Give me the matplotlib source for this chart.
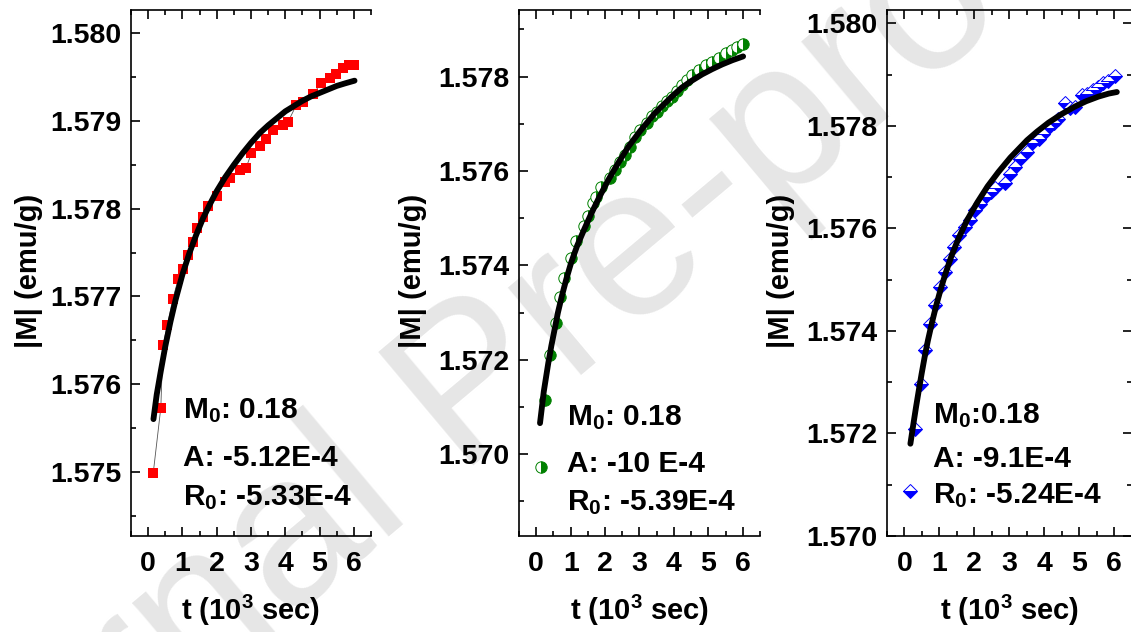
import matplotlib
matplotlib.use("Agg")
import matplotlib.pyplot as plt
from matplotlib.ticker import MultipleLocator, FormatStrFormatter

plt.rcParams['font.family'] = ['Liberation Sans', 'DejaVu Sans']
plt.rcParams['font.weight'] = 'bold'
plt.rcParams['mathtext.fontset'] = 'custom'
plt.rcParams['mathtext.rm'] = 'Liberation Sans:bold'
plt.rcParams['mathtext.bf'] = 'Liberation Sans:bold'
plt.rcParams['mathtext.it'] = 'Liberation Sans:bold'
plt.rcParams['mathtext.default'] = 'rm'

# ---------------- data ----------------
# panel 1 (red squares)
t1 = [0.15, 0.37, 0.43, 0.56, 0.72, 0.88, 1.03, 1.15, 1.30, 1.43, 1.59, 1.75,
      2.00, 2.24, 2.40, 2.67, 2.85, 3.01, 3.26, 3.45, 3.64, 3.93, 4.08, 4.32,
      4.52, 4.81, 5.05, 5.29, 5.49, 5.68, 5.87, 6.00]
m1 = [1.57499, 1.57573, 1.57644, 1.57667, 1.57697, 1.57720, 1.57731, 1.57747,
      1.57762, 1.57778, 1.57791, 1.57803, 1.57815, 1.57830, 1.57835, 1.57844,
      1.57846, 1.57863, 1.57871, 1.57880, 1.57890, 1.57895, 1.57899, 1.57918,
      1.57922, 1.57931, 1.57943, 1.57949, 1.57954, 1.57960, 1.57964, 1.57964]
fit_t1 = [0.155, 0.25, 0.37, 0.50, 0.65, 0.80, 1.00, 1.20, 1.40, 1.60, 1.80,
          2.00, 2.25, 2.50, 2.75, 3.00, 3.25, 3.50, 3.75, 4.00, 4.25, 4.50,
          4.75, 5.00, 5.25, 5.50, 5.75, 6.02]
fit_m1 = [1.57560, 1.57588, 1.57615, 1.57643, 1.57671, 1.57696, 1.57725,
          1.57749, 1.57770, 1.57789, 1.57805, 1.57820, 1.57836, 1.57850,
          1.57863, 1.57875, 1.57886, 1.57895, 1.57903, 1.57911, 1.57917,
          1.57923, 1.57928, 1.57932, 1.57936, 1.57940, 1.57943, 1.57946]

# panel 2 (green half-filled circles)
t2 = [0.14, 0.25, 0.41, 0.58, 0.70, 0.82, 1.01, 1.16, 1.40, 1.50, 1.65, 1.75,
      1.89, 2.14, 2.28, 2.43, 2.58, 2.72, 2.87, 3.01, 3.21, 3.36, 3.50, 3.65,
      3.80, 3.94, 4.09, 4.23, 4.38, 4.53, 4.72, 4.92, 5.11, 5.31, 5.50, 5.70,
      5.84, 6.01]
m2 = [1.56974, 1.57115, 1.57210, 1.57278, 1.57334, 1.57373, 1.57415, 1.57451,
      1.57483, 1.57504, 1.57532, 1.57546, 1.57567, 1.57585, 1.57603, 1.57620,
      1.57635, 1.57652, 1.57673, 1.57688, 1.57702, 1.57716, 1.57726, 1.57737,
      1.57748, 1.57758, 1.57769, 1.57783, 1.57794, 1.57804, 1.57815, 1.57825,
      1.57832, 1.57840, 1.57850, 1.57857, 1.57863, 1.57869]
fit_t2 = [0.11, 0.22, 0.35, 0.44, 0.53, 0.63, 0.74, 0.87, 1.01, 1.19, 1.39,
          1.60, 1.84, 2.10, 2.38, 2.68, 3.01, 3.45, 3.94, 4.23, 4.53, 4.82,
          5.11, 5.40, 5.70, 6.01]
fit_m2 = [1.57066, 1.57133, 1.57193, 1.57230, 1.57263, 1.57300, 1.57334,
          1.57370, 1.57405, 1.57442, 1.57476, 1.57510, 1.57546, 1.57582,
          1.57617, 1.57652, 1.57684, 1.57723, 1.57758, 1.57777, 1.57792,
          1.57805, 1.57816, 1.57826, 1.57835, 1.57843]

# panel 3 (blue half-filled diamonds)
t3 = [0.15, 0.31, 0.46, 0.58, 0.72, 0.87, 1.01, 1.15, 1.29, 1.43, 1.57, 1.72,
      1.89, 2.03, 2.17, 2.31, 2.49, 2.60, 2.89, 3.03, 3.17, 3.31, 3.51, 3.65,
      3.84, 3.98, 4.12, 4.27, 4.41, 4.60, 4.74, 4.89, 5.08, 5.22, 5.41, 5.55,
      5.69, 5.84, 6.03]
m3 = [1.57088, 1.57209, 1.57297, 1.57362, 1.57413, 1.57450, 1.57486, 1.57515,
      1.57541, 1.57564, 1.57587, 1.57603, 1.57616, 1.57635, 1.57648, 1.57661,
      1.57671, 1.57678, 1.57688, 1.57707, 1.57720, 1.57736, 1.57749, 1.57766,
      1.57775, 1.57785, 1.57795, 1.57805, 1.57814, 1.57844, 1.57834, 1.57837,
      1.57860, 1.57863, 1.57870, 1.57876, 1.57883, 1.57888, 1.57897]
fit_t3 = [0.17, 0.25, 0.33, 0.41, 0.49, 0.58, 0.67, 0.79, 0.91, 1.04, 1.17,
          1.35, 1.55, 1.80, 2.08, 2.38, 2.69, 3.03, 3.51, 3.80, 4.12, 4.50,
          4.89, 5.20, 5.55, 5.85, 6.08]
fit_m3 = [1.57180, 1.57216, 1.57251, 1.57284, 1.57316, 1.57350, 1.57381,
          1.57417, 1.57450, 1.57482, 1.57511, 1.57547, 1.57581, 1.57617,
          1.57650, 1.57682, 1.57710, 1.57738, 1.57772, 1.57789, 1.57806,
          1.57823, 1.57838, 1.57848, 1.57857, 1.57863, 1.57866]

x_ticks = [0, 1, 2, 3, 4, 5, 6]
params = [
    [r"M$_{0}$: 0.18", "A: -5.12E-4", r"R$_{0}$: -5.33E-4"],
    [r"M$_{0}$: 0.18", "A: -10 E-4", r"R$_{0}$: -5.39E-4"],
    [r"M$_{0}$:0.18", "A: -9.1E-4", r"R$_{0}$: -5.24E-4"],
]
ylabel = "|M| (emu/g)"
xlabel = "t (10$^{3}$ sec)"

# ---------------- figure ----------------
W, H = 1131, 632
fig = plt.figure(figsize=(W / 100, H / 100), dpi=100)

# watermark
fig.text(475 / W, 1 - 392 / H, "Journal Pre-proof", rotation=40,
         rotation_mode='anchor', ha='center', va='center', fontsize=155,
         fontweight='normal', color='#e6e6e6', zorder=-5)

def px_axes(left, right, top=10, bottom=536):
    return fig.add_axes([left / W, 1 - bottom / H, (right - left) / W,
                         (bottom - top) / H])

ax1 = px_axes(131, 371)
ax2 = px_axes(519, 760)
ax3 = px_axes(887, 1131.5)
axes = [ax1, ax2, ax3]

ax1.plot(t1, m1, color='#555555', lw=0.6, zorder=2)
ax1.plot(t1, m1, ls='none', marker='s', ms=7.5, mfc='#ff0000', mec='#ff0000',
         mew=0, zorder=3)
ax1.plot(fit_t1, fit_m1, color='black', lw=4.2, solid_capstyle='round',
         solid_joinstyle='round', zorder=4)

ax2.plot(t2, m2, ls='none', marker='o', ms=8.2, fillstyle='right',
         mfc='#008000', mfcalt='white', mec='#008000', mew=0.7, zorder=3)
ax2.plot(fit_t2, fit_m2, color='black', lw=4.2, solid_capstyle='round',
         solid_joinstyle='round', zorder=4)

ax3.plot(t3, m3, ls='none', marker='D', ms=7, fillstyle='bottom',
         mfc='#0000ff', mfcalt='white', mec='#0000ff', mew=0.7, zorder=3)
ax3.plot(fit_t3, fit_m3, color='black', lw=4.2, solid_capstyle='round',
         solid_joinstyle='round', zorder=4)

ylims = [(1.574267, 1.580266), (1.568269, 1.579413), (1.570, 1.58026)]
ymaj = [0.001, 0.002, 0.002]
ymin = [0.0005, 0.001, 0.001]
ylab_x = [29, 413, 781]
txt_pos = [
    (0.217, [0.224, 0.133, 0.059]),
    (0.198, [0.211, 0.122, 0.049]),
    (0.189, [0.214, 0.132, 0.062]),
]

for i, ax in enumerate(axes):
    ax.set_facecolor('none')
    ax.set_xlim(-0.5, 6.5)
    ax.set_ylim(*ylims[i])
    ax.set_xticks(x_ticks)
    ax.xaxis.set_minor_locator(MultipleLocator(0.5))
    ax.yaxis.set_major_locator(MultipleLocator(ymaj[i]))
    ax.yaxis.set_minor_locator(MultipleLocator(ymin[i]))
    ax.yaxis.set_major_formatter(FormatStrFormatter('%.3f'))
    ax.spines['right'].set_visible(False)
    for s in ['left', 'bottom', 'top']:
        ax.spines[s].set_linewidth(1.2)
    ax.tick_params(which='both', direction='in', top=True, right=(i == 2),
                   width=1.2, labelsize=20.5)
    ax.tick_params(which='major', length=6.5)
    ax.tick_params(which='minor', length=3.6)
    ax.tick_params(axis='y', pad=7)
    ax.tick_params(axis='x', pad=11)
    for lab in ax.get_xticklabels() + ax.get_yticklabels():
        lab.set_fontweight('bold')
    ax.set_xlabel(xlabel, fontsize=21, fontweight='bold', labelpad=11)
    fig.text(ylab_x[i] / W, 1 - 271 / H, ylabel, rotation=90, ha='center',
             va='center', fontsize=21, fontweight='bold')
    xp, ys = txt_pos[i]
    for s, yy in zip(params[i], ys):
        ax.text(xp, yy, s, transform=ax.transAxes, fontsize=21.5,
                fontweight='bold', va='baseline', ha='left', zorder=5)

fig.savefig("out.png", dpi=100)
